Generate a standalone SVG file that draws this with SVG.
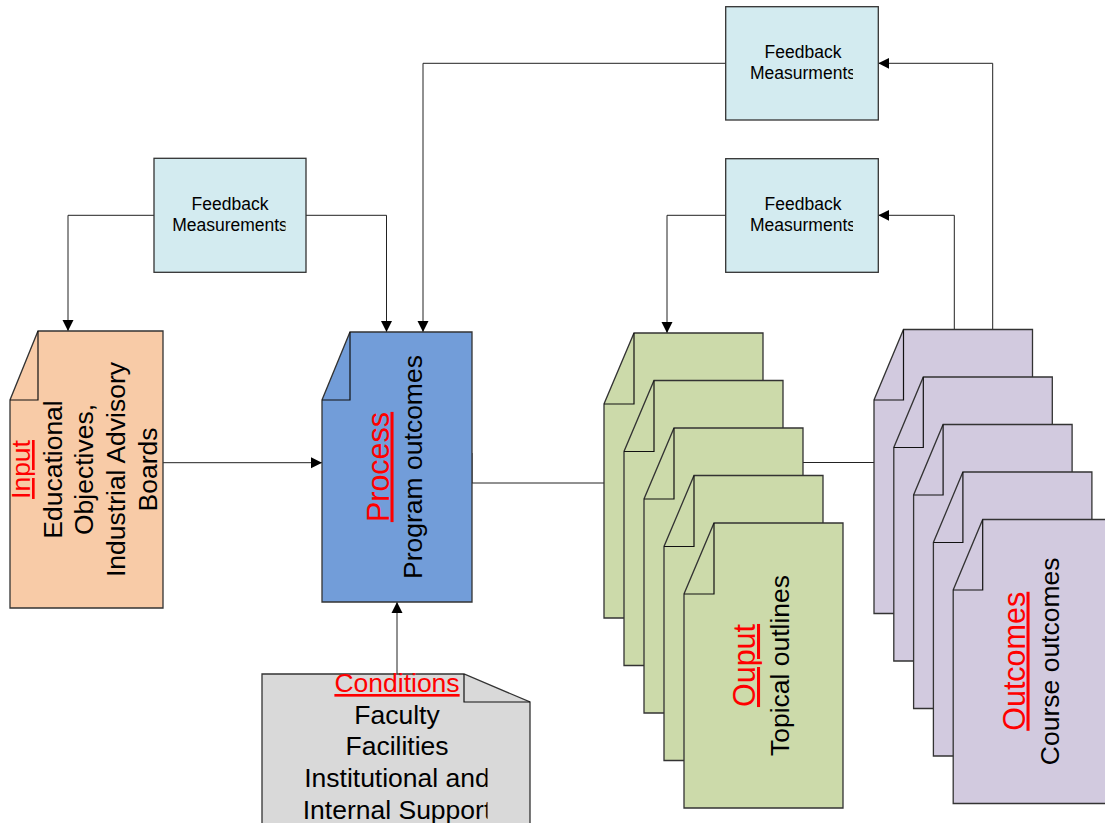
<svg xmlns="http://www.w3.org/2000/svg" width="1105" height="823" viewBox="0 0 1105 823">
<style>
.sh{stroke:#333;stroke-width:1.3;stroke-linejoin:miter}
.fold{fill:none;stroke:#111;stroke-width:1.2}
.cn{fill:none;stroke:#222;stroke-width:1}
.t{font-family:"Liberation Sans",Arial,sans-serif;fill:#000}
.hd{fill:#ff0000;text-decoration:underline}
.fb{font-size:17.5px}
.big{font-size:26.5px}
.hbig{font-size:30.5px}
</style>
<defs>
<marker id="ah" markerWidth="12" markerHeight="12" refX="11" refY="6" orient="auto" markerUnits="userSpaceOnUse">
<path d="M0,0.5 L11,6 L0,11.5 z" fill="#000"/>
</marker>
<clipPath id="cA"><rect x="168" y="150" width="117.5" height="120"/></clipPath>
<clipPath id="cB"><rect x="745" y="0" width="108" height="120"/></clipPath>
<clipPath id="cC"><rect x="745" y="150" width="108" height="120"/></clipPath>
<clipPath id="cD"><rect x="298" y="660" width="189.5" height="170"/></clipPath>
</defs>
<rect width="1105" height="823" fill="#fff"/>

<g id="connectors">
<path class="cn" d="M154,215.3 H68 V331" marker-end="url(#ah)"/>
<path class="cn" d="M306,215.3 H386.5 V332" marker-end="url(#ah)"/>
<path class="cn" d="M725.7,63.3 H423 V332" marker-end="url(#ah)"/>
<path class="cn" d="M725.7,215.3 H667 V333" marker-end="url(#ah)"/>
<path class="cn" d="M954.3,329.5 V215.3 H878.3" marker-end="url(#ah)"/>
<path class="cn" d="M992.7,329.5 V63.3 H878.3" marker-end="url(#ah)"/>
<path class="cn" d="M163,462.7 H322" marker-end="url(#ah)"/>
<path class="cn" d="M472,453 V483 H604"/>
<path class="cn" d="M803,462.5 H874"/>
<path class="cn" d="M397,674 V602" marker-end="url(#ah)"/>
</g>

<g id="feedback-left">
<rect class="sh" x="154" y="158.3" width="152" height="114" fill="#D3EBF0"/>
<g clip-path="url(#cA)">
<text class="t fb" text-anchor="middle" x="230" y="210">Feedback</text>
<text class="t fb" text-anchor="middle" x="230" y="230.7">Measurements</text>
</g>
</g>

<g id="feedback-top">
<rect class="sh" x="725.7" y="6.7" width="152.6" height="113.3" fill="#D3EBF0"/>
<g clip-path="url(#cB)">
<text class="t fb" text-anchor="middle" x="803" y="58.3">Feedback</text>
<text class="t fb" text-anchor="middle" x="803" y="79">Measurments</text>
</g>
</g>

<g id="feedback-mid">
<rect class="sh" x="725.7" y="158.7" width="152.6" height="113.6" fill="#D3EBF0"/>
<g clip-path="url(#cC)">
<text class="t fb" text-anchor="middle" x="803" y="210">Feedback</text>
<text class="t fb" text-anchor="middle" x="803" y="230.7">Measurments</text>
</g>
</g>

<g id="input">
<path class="sh" d="M38,331 H163 V608 H10 V400 Z" fill="#F8CBA7"/>
<path class="fold" d="M38,331 V400 H10"/>
<g transform="translate(86.5,469.5) rotate(-90)">
<text class="t big hd" text-anchor="middle" x="0" y="-56.5">Input</text>
<text class="t big" text-anchor="middle" x="0" y="-25">Educational</text>
<text class="t big" text-anchor="middle" x="0" y="6.5">Objectives,</text>
<text class="t big" text-anchor="middle" x="0" y="38.5">Industrial Advisory</text>
<text class="t big" text-anchor="middle" x="0" y="70.5">Boards</text>
</g>
</g>

<g id="process">
<path class="sh" d="M350,332 H472 V602 H322 V400 Z" fill="#729DD9"/>
<path class="fold" d="M350,332 V400 H322"/>
<g transform="translate(397,467) rotate(-90)">
<text class="t hbig hd" text-anchor="middle" x="0" y="-8.5">Process</text>
<text class="t big" text-anchor="middle" x="0" y="25.3">Program outcomes</text>
</g>
</g>

<g id="conditions">
<path class="sh" d="M262,674 H464 L530,702 V830 H262 Z" fill="#D9D9D9"/>
<path class="fold" d="M464,674 V702 H530"/>
<g clip-path="url(#cD)">
<text class="t big hd" text-anchor="middle" x="397" y="692">Conditions</text>
<text class="t big" text-anchor="middle" x="397" y="723.5">Faculty</text>
<text class="t big" text-anchor="middle" x="397" y="755">Facilities</text>
<text class="t big" text-anchor="middle" x="397" y="787">Institutional and</text>
<text class="t big" text-anchor="middle" x="397" y="818.5">Internal Support</text>
</g>
</g>

<g id="output">
<path class="sh" d="M634,333 H763 V618 H604 V404 Z" fill="#CCDAAA"/>
<path class="fold" d="M634,333 V404 H604"/>
<path class="sh" d="M654,380.5 H783 V665.5 H624 V451.5 Z" fill="#CCDAAA"/>
<path class="fold" d="M654,380.5 V451.5 H624"/>
<path class="sh" d="M674,428 H803 V713 H644 V499 Z" fill="#CCDAAA"/>
<path class="fold" d="M674,428 V499 H644"/>
<path class="sh" d="M694,475.5 H823 V760.5 H664 V546.5 Z" fill="#CCDAAA"/>
<path class="fold" d="M694,475.5 V546.5 H664"/>
<path class="sh" d="M714,523 H843 V808 H684 V594 Z" fill="#CCDAAA"/>
<path class="fold" d="M714,523 V594 H684"/>
<g transform="translate(763,665.5) rotate(-90)">
<text class="t hbig hd" text-anchor="middle" x="0" y="-8">Ouput</text>
<text class="t big" text-anchor="middle" x="0" y="26">Topical outlines</text>
</g>
</g>

<g id="outcomes">
<path class="sh" d="M903.5,329.5 H1032.5 V613.5 H874 V400 Z" fill="#D2CADF"/>
<path class="fold" d="M903.5,329.5 V400 H874"/>
<path class="sh" d="M923.3,377 H1052.3 V661 H893.8 V447.5 Z" fill="#D2CADF"/>
<path class="fold" d="M923.3,377 V447.5 H893.8"/>
<path class="sh" d="M943.1,424.5 H1072.1 V708.5 H913.6 V495 Z" fill="#D2CADF"/>
<path class="fold" d="M943.1,424.5 V495 H913.6"/>
<path class="sh" d="M962.9,472 H1091.9 V756 H933.4 V542.5 Z" fill="#D2CADF"/>
<path class="fold" d="M962.9,472 V542.5 H933.4"/>
<path class="sh" d="M982.7,519.5 H1111.7 V803.5 H953.2 V590 Z" fill="#D2CADF"/>
<path class="fold" d="M982.7,519.5 V590 H953.2"/>
<g transform="translate(1032,661.3) rotate(-90)">
<text class="t hbig hd" text-anchor="middle" x="0" y="-7.5">Outcomes</text>
<text class="t big" text-anchor="middle" x="0" y="26.5">Course outcomes</text>
</g>
</g>
</svg>
